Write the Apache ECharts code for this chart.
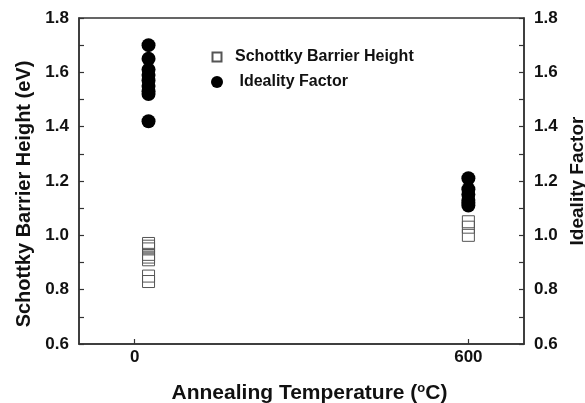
<!DOCTYPE html>
<html>
<head>
<meta charset="utf-8">
<script src="https://cdn.jsdelivr.net/npm/echarts@6/dist/echarts.min.js"></script>
<style>
  html, body { margin: 0; padding: 0; background: #fff; }
  #chart { width: 585px; height: 403px; }
</style>
</head>
<body>
<div id="chart"></div>
<script>
// annealing temperatures (°C) at which the samples were measured
const temps = [25, 600];
// Schottky barrier height (eV)
const sbhAt25 = [0.97, 0.96, 0.95, 0.93, 0.92, 0.91, 0.85, 0.83];
const sbhAt600 = [1.05, 1.03, 1.00];
// ideality factor
const nAt25 = [1.70, 1.65, 1.61, 1.59, 1.57, 1.55, 1.53, 1.52, 1.42];
const nAt600 = [1.21, 1.17, 1.15, 1.13, 1.12, 1.11];
const xTicks = [0, 600];

const toPoints = (t, vals) => vals.map(v => [t, v]);

const font = 'Liberation Sans, Arial, sans-serif';
const axisColor = '#333';

const yAxisBase = {
    type: 'value',
    min: 0.6,
    max: 1.8,
    interval: 0.2,
    nameLocation: 'middle',
    nameRotate: 90,
    axisLine: { show: true, onZero: false, lineStyle: { color: axisColor, width: 1.5 } },
    axisTick: { show: true, inside: true, length: 5, lineStyle: { color: axisColor, width: 1.2 } },
    minorTick: { show: true, splitNumber: 2, length: 5, lineStyle: { color: axisColor, width: 1.2 } },
    splitLine: { show: false },
    axisLabel: {
        fontFamily: font, fontWeight: 'bold', fontSize: 17, color: '#111', margin: 10,
        formatter: v => v.toFixed(1)
    }
};

const chart = echarts.init(document.getElementById('chart'));
chart.setOption({
    animation: false,
    backgroundColor: '#fff',
    grid: {
        left: 79, right: 61, top: 18, bottom: 59,
        outerBoundsMode: 'none',
        containLabel: false,
        show: true, borderColor: axisColor, borderWidth: 1.5
    },
    legend: {
        orient: 'vertical',
        left: 205,
        top: 44,
        itemGap: 9,
        itemWidth: 12,
        itemHeight: 12,
        textStyle: { fontFamily: font, fontWeight: 'bold', fontSize: 16, color: '#111', padding: [0, 0, 0, 7] },
        data: [
            { name: 'Schottky Barrier Height', icon: 'path://M0,0L0,0M12,12L12,12M1.5,1.5h9v9h-9z' },
            { name: ' Ideality Factor', icon: 'circle' }
        ]
    },
    xAxis: {
        type: 'value',
        min: -100,
        max: 700,
        name: 'Annealing Temperature ({sup|o}C)',
        nameLocation: 'middle',
        nameGap: 38,
        nameTextStyle: {
            fontFamily: font, fontWeight: 'bold', fontSize: 21, color: '#111',
            padding: [0, 0, 0, 16],
            rich: { sup: { fontFamily: font, fontWeight: 'bold', fontSize: 13, verticalAlign: 'top', padding: [0, 0, 9, 0], color: '#111' } }
        },
        axisLine: { show: true, onZero: false, lineStyle: { color: axisColor, width: 1.5 } },
        axisTick: { show: true, inside: true, length: 5, customValues: xTicks, lineStyle: { color: axisColor, width: 1.2 } },
        axisLabel: { customValues: xTicks, fontFamily: font, fontWeight: 'bold', fontSize: 17, color: '#111', margin: 5 },
        splitLine: { show: false }
    },
    yAxis: [
        Object.assign({}, yAxisBase, {
            position: 'left',
            name: 'Schottky Barrier Height (eV)',
            nameGap: 45,
            nameTextStyle: { fontFamily: font, fontWeight: 'bold', fontSize: 20, color: '#111', padding: [0, 26, 0, 0] }
        }),
        Object.assign({}, yAxisBase, {
            position: 'right',
            name: 'Ideality Factor',
            nameGap: 40,
            nameTextStyle: { fontFamily: font, fontWeight: 'bold', fontSize: 19, color: '#111' }
        })
    ],
    series: [
        {
            name: 'Schottky Barrier Height',
            type: 'scatter',
            yAxisIndex: 0,
            symbol: 'rect',
            symbolSize: 12,
            itemStyle: { color: 'rgba(255,255,255,0)', borderColor: '#555', borderWidth: 1, opacity: 1 },
            data: toPoints(temps[0], sbhAt25).concat(toPoints(temps[1], sbhAt600))
        },
        {
            name: ' Ideality Factor',
            type: 'scatter',
            yAxisIndex: 1,
            symbol: 'circle',
            symbolSize: 14,
            itemStyle: { color: '#000', opacity: 1 },
            data: toPoints(temps[0], nAt25).concat(toPoints(temps[1], nAt600))
        }
    ]
});
</script>
</body>
</html>
